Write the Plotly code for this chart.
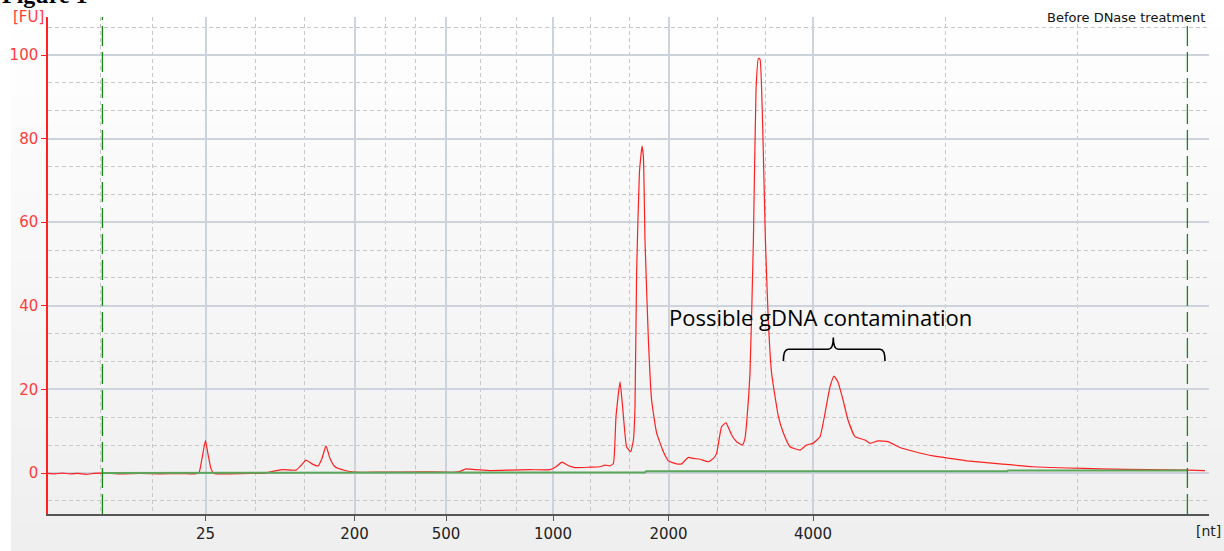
import plotly.graph_objects as go

# ---------------- data ----------------
# migration time (s) and fluorescence (FU) of the sample trace
time_s = [15.0, 15.35, 15.7, 16.1, 16.5, 16.9, 17.3, 17.7, 18.6, 19.6, 20.6, 21.6, 22.35,
          22.55, 22.7, 22.875, 23.0, 23.15, 23.3, 24.1, 25.1, 25.85, 26.35, 26.75, 27.4,
          27.65, 27.9, 28.2, 28.5, 28.7, 28.9, 29.1, 29.35, 29.85, 30.35, 31.6, 33.6,
          35.35, 35.6, 35.9, 36.35, 37.1, 38.1, 39.1, 40.1, 40.4, 40.7, 41.0, 41.35,
          42.1, 42.6, 42.85, 43.1, 43.27, 43.4, 43.6, 43.73, 43.93, 44.13, 44.27, 44.35,
          44.43, 44.57, 44.7, 44.77, 44.85, 45.02, 45.18, 45.43, 45.77, 46.02, 46.43,
          46.68, 47.02, 47.27, 47.6, 48.02, 48.27, 48.43, 48.68, 48.9, 49.18, 49.43,
          49.72, 49.85, 49.93, 50.1, 50.27, 50.4, 50.52, 50.6, 50.73, 50.87, 51.02,
          51.18, 51.52, 51.77, 52.1, 52.6, 52.93, 53.25, 53.6, 53.85, 54.1, 54.3, 54.5,
          54.75, 55.0, 55.35, 55.85, 56.1, 56.5, 57.0, 57.6, 58.35, 59.25, 60.1, 60.95,
          62.6, 64.25, 65.95, 67.6, 70.1, 71.95, 72.85]
fu = [-0.1, -0.2, 0.0, -0.2, -0.1, -0.3, -0.1, 0.0, -0.2, -0.1, -0.2, -0.1, -0.2,
      0.1, 3.5, 7.8, 4.5, 1.0, -0.1, -0.2, -0.1, 0.0, 0.5, 0.8, 0.7,
      1.8, 3.1, 2.2, 1.7, 3.5, 6.5, 3.5, 1.5, 0.6, 0.2, 0.2, 0.3,
      0.2, 0.4, 1.0, 0.8, 0.6, 0.7, 0.8, 0.8, 1.5, 2.6, 1.8, 1.3,
      1.4, 1.5, 1.9, 1.7, 2.3, 13.5, 21.8, 15.9, 6.3, 5.1, 7.9, 15.9,
      47.8, 71.8, 78.2, 75.7, 55.7, 31.8, 17.5, 9.6, 5.1, 2.9, 2.2,
      2.2, 3.75, 3.5, 3.3, 2.7, 3.5, 4.7, 11.1, 12.0, 9.1, 7.5,
      6.7, 8.3, 11.9, 23.9, 55.7, 91.6, 99.2, 99.0, 83.7, 55.7, 35.9,
      23.9, 13.5, 9.6, 6.3, 5.5, 6.7, 7.1, 8.7, 14.3, 20.6, 23.2, 21.8,
      17.5, 12.7, 8.7, 7.9, 7.1, 7.7, 7.5, 6.1, 5.1, 4.1, 3.5, 2.9,
      2.2, 1.5, 1.2, 1.0, 0.8, 0.7, 0.6]

# baseline trace (green)
base_time = [17.7, 26.75, 26.8, 44.85, 44.9, 62.95, 63.0, 71.95]
base_fu = [0.0, 0.0, 0.15, 0.15, 0.4, 0.4, 0.6, 0.6]

# lower / upper marker times
marker_times = [17.72, 71.97]

# size ladder labels and their migration times
ladder_nt = ["25", "200", "500", "1000", "2000", "4000"]
ladder_time = [22.875, 30.325, 34.9, 40.25, 46.025, 53.25]
minor_time = [17.6, 20.235, 25.35, 27.815, 31.885, 33.385, 36.635, 38.4, 42.135,
              44.05, 48.45, 50.885, 59.885, 66.45, 73.0]

y_ticks = [0, 20, 40, 60, 80, 100]

# annotation: brace over the gDNA region
brace_left, brace_mid, brace_right = 51.77, 54.265, 56.85
brace_low, brace_bar, brace_top = 26.8, 29.6, 32.4

# ---------------- figure ----------------
fig = go.Figure()

fig.add_trace(go.Scatter(x=time_s, y=fu, mode="lines",
                         line=dict(color="#ff2020", width=1.2, shape="spline", smoothing=0.4),
                         showlegend=False))
fig.add_trace(go.Scatter(x=base_time, y=base_fu, mode="lines",
                         line=dict(color="#5aa65a", width=2), showlegend=False))

shapes = []
# gradient background (paper)
N = 40
x0p, x1p = (11 - 48) / 1161, 1 + 15 / 1161
y0p, y1p = -37 / 497, 1 + 17 / 497
for i in range(N):
    f = i / (N - 1)
    c = int(round(255 - (255 - 239) * f))
    ya = y1p - (y1p - y0p) * i / N
    yb = y1p - (y1p - y0p) * (i + 1) / N
    shapes.append(dict(type="rect", xref="paper", yref="paper", x0=x0p, x1=x1p,
                       y0=yb, y1=ya + 0.002, line=dict(width=0),
                       fillcolor=f"rgb({c},{c},{c})", layer="below"))

for t in marker_times:
    shapes.append(dict(type="line", xref="x", yref="paper", x0=t, x1=t, y0=0, y1=1,
                       line=dict(color="#128a12", width=1.3, dash="20px,6px"),
                       layer="above"))

d = 0.25
path = (f"M {brace_left},{brace_low} Q {brace_left},{brace_bar} {brace_left + d},{brace_bar} "
        f"L {brace_mid - d},{brace_bar} Q {brace_mid},{brace_bar} {brace_mid},{brace_top} "
        f"Q {brace_mid},{brace_bar} {brace_mid + d},{brace_bar} "
        f"L {brace_right - d},{brace_bar} Q {brace_right},{brace_bar} {brace_right},{brace_low}")
shapes.append(dict(type="path", xref="x", yref="y", path=path,
                   line=dict(color="black", width=1.6), layer="above"))

fig.update_layout(
    width=1224, height=551,
    margin=dict(l=48, r=15, t=17, b=37),
    paper_bgcolor="white",
    plot_bgcolor="rgba(0,0,0,0)",
    shapes=shapes,
    xaxis=dict(
        range=[15, 73.05], automargin=False,
        tickmode="array", tickvals=ladder_time, ticktext=ladder_nt,
        showgrid=True, gridcolor="#cdd3dc", gridwidth=2,
        zeroline=False,
        showline=True, linecolor="#555555", linewidth=2,
        ticks="outside", ticklen=5, tickcolor="#555555",
        tickfont=dict(family="DejaVu Sans", size=15, color="#222222"),
        minor=dict(tickmode="array", tickvals=minor_time, showgrid=True,
                   gridcolor="#c8c8c8", griddash="4px,3px", gridwidth=1, ticks=""),
    ),
    yaxis=dict(
        range=[-9.8, 109.1], automargin=False,
        tickmode="array", tickvals=y_ticks,
        showgrid=True, gridcolor="#cdd3dc", gridwidth=2,
        zeroline=False,
        showline=True, linecolor="#ff2020", linewidth=1.5,
        ticks="outside", ticklen=5, tickcolor="#ff2020",
        tickfont=dict(family="DejaVu Sans", size=15, color="#ff3b3b"),
        minor=dict(tick0=0, dtick=20 / 3, showgrid=True,
                   gridcolor="#c8c8c8", griddash="4px,3px", gridwidth=1, ticks=""),
    ),
    annotations=[
        dict(text="[FU]", xref="paper", yref="paper", x=-37 / 1161, y=1.0,
             xanchor="left", yanchor="middle", showarrow=False,
             font=dict(family="DejaVu Sans", size=15, color="#ff3b3b")),
        dict(text="[nt]", xref="paper", yref="paper", x=(1194 - 48) / 1161, y=-17 / 497,
             xanchor="left", yanchor="middle", showarrow=False,
             font=dict(family="DejaVu Sans", size=14, color="#222222")),
        dict(text="Before DNase treatment", xref="paper", yref="paper",
             x=(1207 - 48) / 1161, y=1.0, xanchor="right", yanchor="middle",
             showarrow=False, font=dict(family="DejaVu Sans", size=13, color="#111111")),
        dict(text="Possible gDNA contamination", xref="x", yref="y",
             x=53.625, y=37.3, xanchor="center", yanchor="middle", showarrow=False,
             font=dict(family="Open Sans", size=22, color="black")),
        dict(text="<b>Figure 1</b>", xref="paper", yref="paper",
             x=-48 / 1161, y=(514 - 10) / 497, xanchor="left", yanchor="bottom",
             showarrow=False,
             font=dict(family="Liberation Serif", size=24, color="black")),
    ],
)

fig.write_html("out.html")
